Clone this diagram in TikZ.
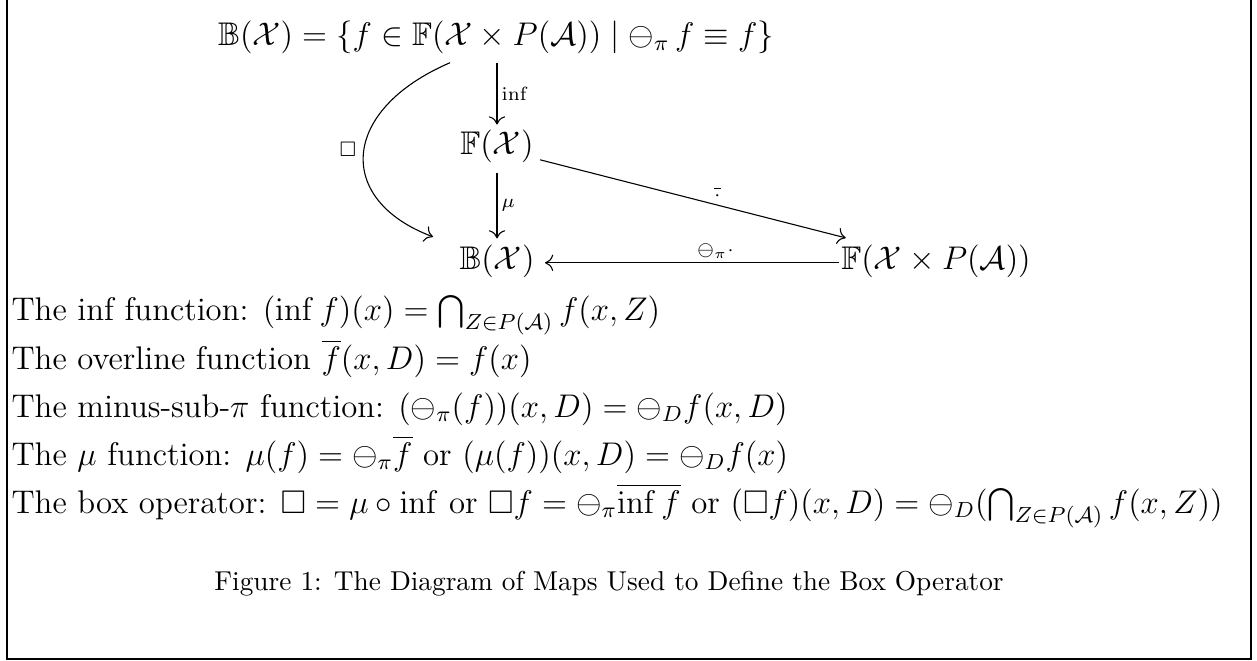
\documentclass[tikz,border=0pt]{standalone}
\usepackage{amsmath,amssymb}
\usetikzlibrary{calc,arrows.meta}
\begin{document}
\begin{tikzpicture}[x=0.3663pt,y=-0.3663pt,
  obj/.style={inner sep=0pt,anchor=base,font=\fontsize{12}{14}\selectfont},
  lbl/.style={inner sep=1.5pt,font=\fontsize{7}{8}\selectfont},
  txt/.style={inner sep=0pt,anchor=base west,font=\fontsize{12}{14}\selectfont},
  captxt/.style={inner sep=0pt,anchor=base,font=\fontsize{10}{12}\selectfont},
  map/.style={-{To[length=3pt,width=6pt]},line width=0.4pt}]
\useasboundingbox (0,0) rectangle (1257,661);
\draw[line width=0.8pt] (7,-5) -- (7,659) -- (1251,659) -- (1251,-5);
\node[obj] (top) at (496,46) {$\mathbb{B}(\mathcal{X})=\{f\in\mathbb{F}(\mathcal{X}\times P(\mathcal{A}))\mid\ominus_\pi\, f\equiv f\}$};
\node[obj] (FX) at (497,154) {$\mathbb{F}(\mathcal{X})$};
\node[obj] (BX) at (497,269) {$\mathbb{B}(\mathcal{X})$};
\node[obj] (FXP) at (936,269) {$\mathbb{F}(\mathcal{X}\times P(\mathcal{A}))$};
\draw[map] ([yshift=-3.2pt]top.south -| FX.north) -- node[right,lbl] {$\inf$} ([yshift=1.6pt]FX.north);
\draw[map] ([yshift=-3.6pt]FX.south) -- node[right,lbl] {$\mu$} ([yshift=2pt]BX.north);
\draw[map] ($(FX.east)+(6,14)$) -- node[above,pos=0.58,lbl] {$\overline{\cdot}$} ($(FXP.north west)+(5,-6)$);
\draw[map] ($(FXP.west)+(-2,2)$) -- node[above,pos=0.42,lbl] {$\ominus_\pi\cdot$} ($(BX.east)+(10,2)$);
\draw[map] ($(top.south)+(-46,8)$) .. controls (340,110) and (335,200) .. ($(BX.west)+(-26,-24)$);
\node[lbl] (boxl) at (348,149) {$\Box$};
\node[txt] (l1) at (11,320) {The inf function: $(\inf f)(x)=\bigcap_{Z\in P(\mathcal{A})}f(x,Z)$};
\node[txt] (l2) at (11,369) {The overline function $\overline{f}(x,D)=f(x)$};
\node[txt] (l3) at (11,417) {The minus-sub-$\pi$ function: $(\ominus_\pi(f))(x,D)=\ominus_D f(x,D)$};
\node[txt] (l4) at (11,465) {The $\mu$ function: $\mu(f)=\ominus_\pi\overline{f}$ or $(\mu(f))(x,D)=\ominus_D f(x)$};
\node[txt] (l5) at (11,513) {The box operator: $\Box=\mu\circ\inf$ or $\Box f=\ominus_\pi\overline{\inf f}$ or $(\Box f)(x,D)=\ominus_D(\bigcap_{Z\in P(\mathcal{A})}f(x,Z))$};
\node[captxt] (cap) at (609,590) {Figure 1: The Diagram of Maps Used to Define the Box Operator};
\end{tikzpicture}
\end{document}
